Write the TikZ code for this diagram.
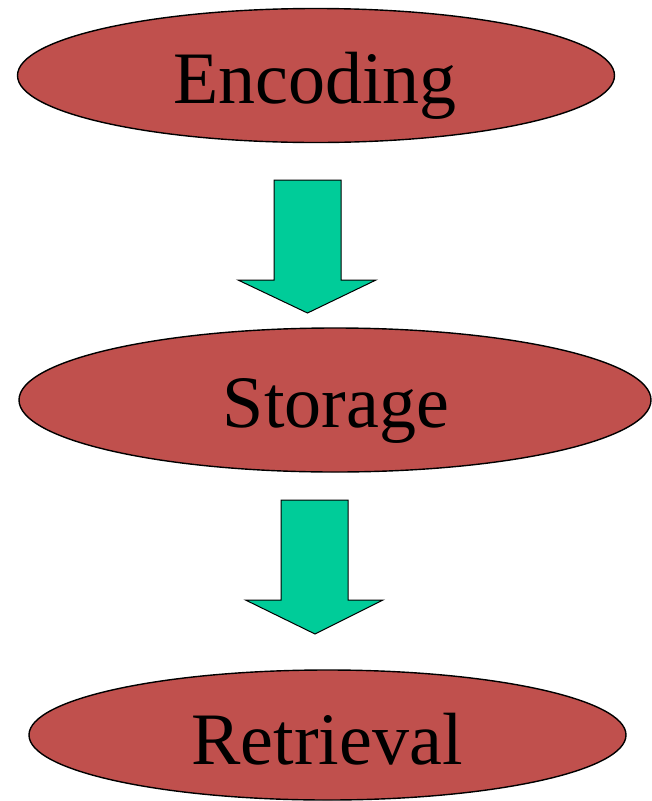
\documentclass[tikz,border=0pt]{standalone}
\usepackage{fontspec}
\setmainfont{Liberation Serif}
\usetikzlibrary{shapes.geometric}
\definecolor{ellred}{HTML}{C0504D}
\definecolor{arrgreen}{HTML}{00CC99}
\begin{document}
\begin{tikzpicture}[x=1pt,y=-1pt,
  stage/.style={ellipse,draw=black,line width=1.4pt,fill=ellred,inner sep=0pt},
  stagetext/.style={anchor=base,inner sep=0pt,font=\fontsize{74}{80}\selectfont},
  blockarrow/.style={draw=black,line width=1pt,fill=arrgreen,line join=miter}]
\useasboundingbox (0,0) rectangle (652,801);
% ellipses
\node[stage,minimum width=597pt,minimum height=134pt] (enc) at (316,75.5) {};
\node[stage,minimum width=632pt,minimum height=144pt] (sto) at (335,400) {};
\node[stage,minimum width=597pt,minimum height=130pt] (ret) at (327.5,735) {};
% texts
\node[stagetext] (enct) at (315,103) {Encoding};
\node[stagetext] (stot) at (336,427) {Storage};
\node[stagetext] (rett) at (327,764) {Retrieval};
% block arrows
\draw[blockarrow] (274,180) -- (341,180) -- (341,280) -- (376,280) -- (307.5,313)
  -- (238,280) -- (274,280) -- cycle;
\draw[blockarrow] (281,500) -- (348,500) -- (348,600) -- (383,600) -- (315,634)
  -- (245.5,600) -- (281,600) -- cycle;
\end{tikzpicture}
\end{document}
